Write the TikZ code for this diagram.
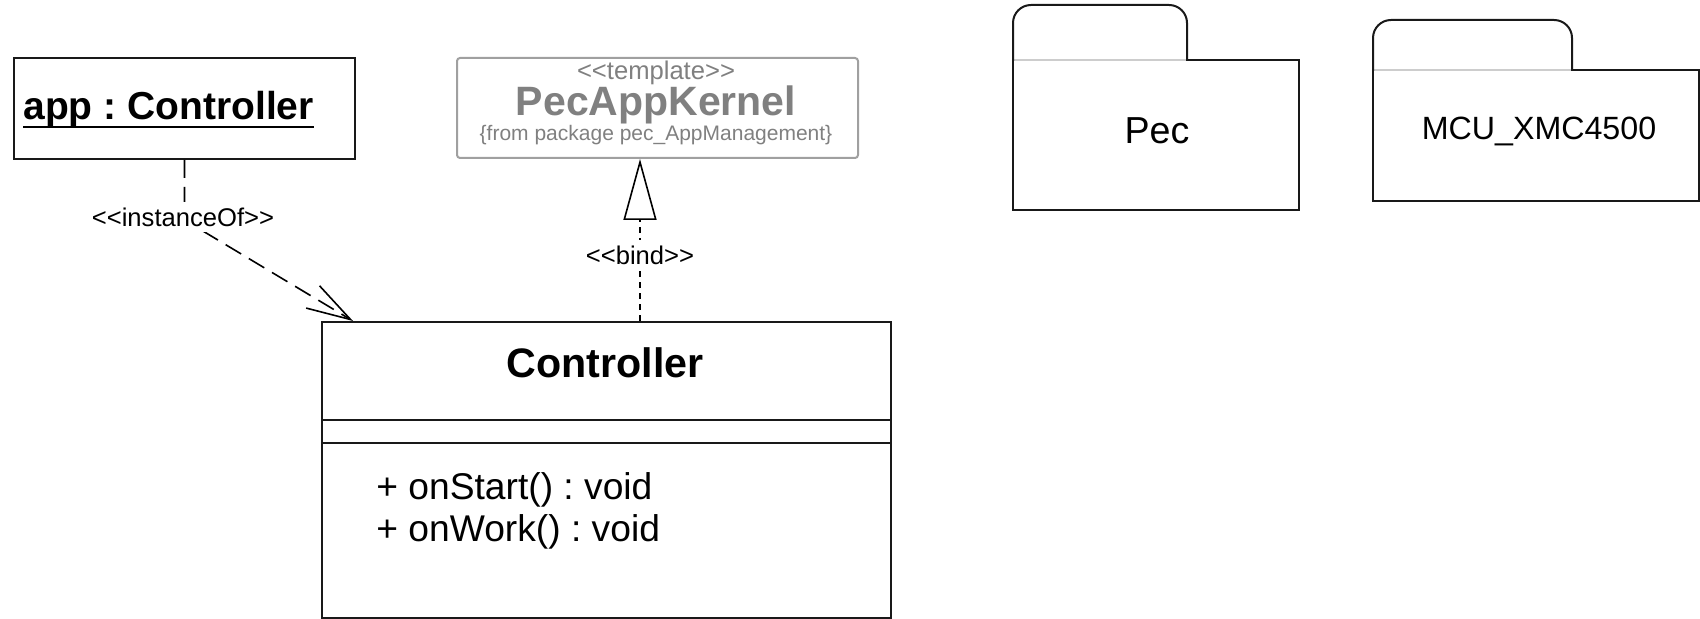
\documentclass[tikz,border=0pt]{standalone}
\usepackage{fontspec}
\setmainfont{Liberation Sans}
\usetikzlibrary{arrows.meta}
\definecolor{outline}{RGB}{25,25,25}
\definecolor{kernelline}{RGB}{160,160,160}
\definecolor{kerneltext}{RGB}{128,128,128}
\definecolor{tabline}{RGB}{205,205,205}
\frenchspacing
\begin{document}
\begin{tikzpicture}[x=0.5pt,y=-0.5pt,
  box/.style={draw=outline,line width=1pt,inner sep=0pt,anchor=north west},
  txt/.style={inner sep=0pt},
  stereo/.style={fill=white,inner sep=3pt,font=\fontsize{12.8}{15}\selectfont},
  conn/.style={draw=black,line width=0.8pt},
  pkg/.style={draw=outline,line width=1pt,line cap=rect},
]
\fill[white] (0,0) rectangle (1700,619);
\useasboundingbox (0,0) rectangle (1700,619);

% object instance
\node[box,minimum width=170.5pt,minimum height=50.5pt] (app) at (13,57) {};
\node[txt,anchor=base west,font=\bfseries\fontsize{19.5}{23}\selectfont] (appname) at (23,120) {app : Controller};
\draw[line width=1pt] ([yshift=-3.5pt]appname.base west) -- ([yshift=-3.5pt]appname.base east);

% template class from another package
\node[box,draw=kernelline,rounded corners=1.5pt,minimum width=200.5pt,minimum height=50pt] (kernel) at (456,57) {};
\node[txt,anchor=base,text=kerneltext,font=\fontsize{12.8}{15}\selectfont] (ktpl) at (656,80) {<{}<template>{}>};
\node[txt,anchor=base,text=kerneltext,font=\bfseries\fontsize{20.5}{24}\selectfont] (kname) at (656,116) {PecAppKernel};
\node[txt,anchor=base,text=kerneltext,font=\fontsize{10.5}{12}\selectfont] (kfrom) at (656,141) {\{from package pec\_AppManagement\}};

% class Controller
\node[box,minimum width=284.5pt,minimum height=148pt] (ctrl) at (321,321) {};
\draw[line width=1pt,outline] (ctrl.west |- 0,420) -- (ctrl.east |- 0,420);
\draw[line width=1pt,outline] (ctrl.west |- 0,443) -- (ctrl.east |- 0,443);
\node[txt,anchor=base,font=\bfseries\fontsize{20.6}{24}\selectfont] (ctitle) at (605,378) {Controller};
\node[txt,anchor=base west,font=\fontsize{18.6}{22}\selectfont] (op1) at (376,499) {+ onStart() : void};
\node[txt,anchor=base west,font=\fontsize{18.6}{22}\selectfont] (op2) at (376,541) {+ onWork() : void};

% instanceOf dependency
\coordinate (bend) at (app.south |- 0,220);
\draw[conn,dash pattern=on 9pt off 4.5pt,-{Straight Barb[length=22pt,width=13pt]}]
  (app.south) -- (bend) -- ([xshift=16pt]ctrl.north west);
\node[stereo] (lblinst) at (183,217) {<{}<instanceOf>{}>};

% bind realization
\coordinate (bx) at (640,0);
\draw[conn,dash pattern=on 3pt off 2.5pt,-{Triangle[open,length=30.5pt,width=16.5pt,fill=white]}]
  (ctrl.north -| bx) -- (kernel.south -| bx);
\node[stereo] (lblbind) at (640,255) {<{}<bind>{}>};

% package Pec
\draw[tabline,line width=0.6pt] (1013,60) -- (1187,60);
\draw[pkg,rounded corners=9pt] (1013,60) -- (1013,5) -- (1187,5) -- (1187,60);
\draw[pkg] (1187,60) -- (1299,60) -- (1299,210) -- (1013,210) -- (1013,60);
\node[txt,anchor=base,font=\fontsize{18.8}{22}\selectfont] (pecname) at (1157,144) {Pec};

% package MCU_XMC4500
\draw[tabline,line width=0.6pt] (1373,70) -- (1572,70);
\draw[pkg,rounded corners=9pt] (1373,70) -- (1373,20) -- (1572,20) -- (1572,70);
\draw[pkg] (1572,70) -- (1699,70) -- (1699,201) -- (1373,201) -- (1373,70);
\node[txt,anchor=base,font=\fontsize{16.1}{19}\selectfont] (mcuname) at (1539,140) {MCU\_XMC4500};
\end{tikzpicture}
\end{document}
